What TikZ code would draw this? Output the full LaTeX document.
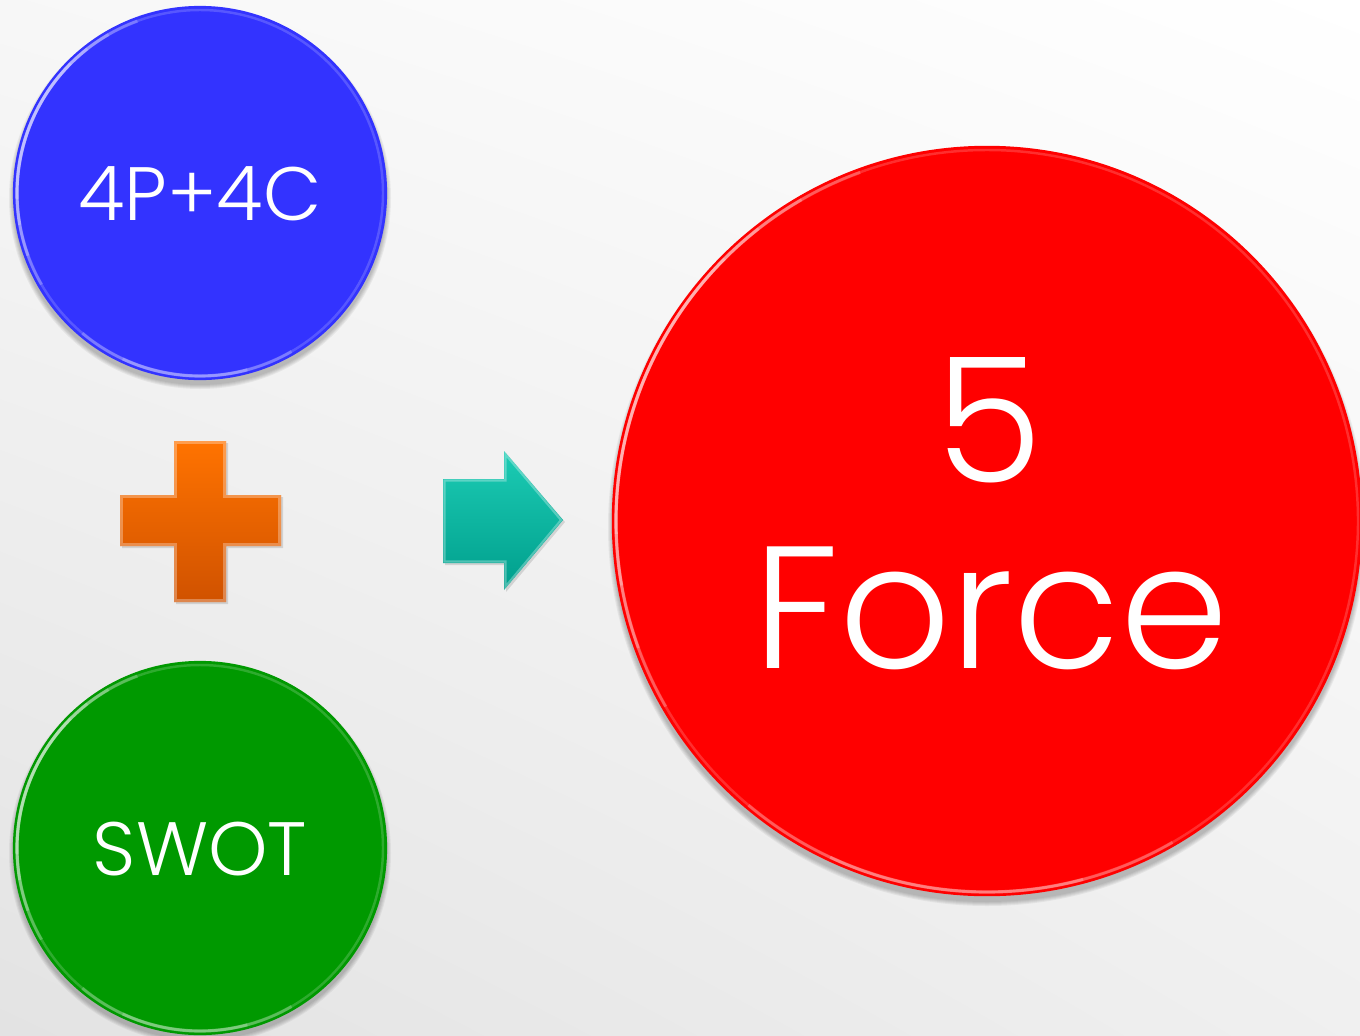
\documentclass[tikz,border=0pt]{standalone}
\usepackage{fontspec}
\setmainfont{Poppins Light}
\usetikzlibrary{shadings}
\definecolor{cblue}{HTML}{3333FF}
\definecolor{cgreen}{HTML}{009900}
\definecolor{cred}{HTML}{FF0000}
\definecolor{corangeT}{HTML}{FF7300}
\definecolor{corangeB}{HTML}{D05200}
\definecolor{ctealT}{HTML}{1CCCB4}
\definecolor{ctealB}{HTML}{009E8C}
\tikzset{
  ball/.style={circle, inner sep=0pt, text=white},
  balltext/.style={text=white, inner sep=0pt, anchor=base},
  shadowring/.style={fill=black, opacity=0.05},
  rimline/.style={white, opacity=0.18, line width=0.7pt},
  hl/.style={white, opacity=0.22, line width=0.9pt},
  edge/.style={white, opacity=0.3, line width=0.6pt, line join=miter},
}
\begin{document}
\begin{tikzpicture}[x=0.01cm,y=-0.01cm]
\useasboundingbox (0,0) rectangle (1360,1036);
\shade[upper right=white, upper left=black!3, lower left=black!11, lower right=black!6] (0,0) rectangle (1360,1036);
% shadows
\foreach \k in {1,...,5}{
  \fill[shadowring] (200,198) circle ({186+\k});
  \fill[shadowring] (200,853) circle ({186+\k});
  \fill[shadowring] (987,527) circle ({374+\k});
}
% circles
\node[ball, fill=cblue, minimum size=3.74cm] (p4) at (200,193) {};
\node[ball, fill=cgreen, minimum size=3.74cm] (swot) at (200,848) {};
\node[ball, fill=cred, minimum size=7.50cm] (five) at (987,521) {};
% gloss rims
\foreach \cx/\cy/\r in {200/193/183, 200/848/183, 987/521/371}{
  \draw[rimline] (\cx,\cy) circle (\r);
  \foreach \a/\b in {150/250, 160/240, 170/232, 178/225}{
    \draw[hl] (\cx,\cy) ++(\a:\r) arc (\a:\b:\r);
  }
  \foreach \a/\b in {60/130, 75/115}{
    \draw[hl] (\cx,\cy) ++(\a:\r) arc (\a:\b:\r);
  }
}
% texts
\node[balltext, font=\fontsize{21.5}{26}\selectfont] (t4p) at (200,220) {4P+4C};
\node[balltext, font=\fontsize{21.5}{26}\selectfont] (tsw) at (200,875) {SWOT};
\node[balltext, font=\fontsize{49.5}{53}\selectfont] (t5) at (989,482) {5};
\node[balltext, font=\fontsize{49.5}{53}\selectfont] (tf) at (991,668) {Force};
% plus sign
\fill[black, opacity=0.12] (176,443) -- (228,443) -- (228,497) -- (283,497) -- (283,548) -- (228,548) -- (228,604) -- (176,604) -- (176,548) -- (122,548) -- (122,497) -- (176,497) -- cycle;
\shade[top color=corangeT, bottom color=corangeB] (174,441) -- (226,441) -- (226,495) -- (281,495) -- (281,546) -- (226,546) -- (226,602) -- (174,602) -- (174,546) -- (120,546) -- (120,495) -- (174,495) -- cycle;
\draw[edge] (175.5,442.5) -- (224.5,442.5) -- (224.5,496.5) -- (279.5,496.5) -- (279.5,544.5) -- (224.5,544.5) -- (224.5,600.5) -- (175.5,600.5) -- (175.5,544.5) -- (121.5,544.5) -- (121.5,496.5) -- (175.5,496.5) -- cycle;
% arrow
\fill[black, opacity=0.12] (445,481) -- (506,481) -- (506,453) -- (565,522) -- (506,592) -- (506,565) -- (445,565) -- cycle;
\shade[top color=ctealT, bottom color=ctealB] (443,479) -- (504,479) -- (504,451) -- (563,520) -- (504,590) -- (504,563) -- (443,563) -- cycle;
\draw[edge] (444.5,480.5) -- (505.5,480.5) -- (505.5,454.5) -- (561,520) -- (505.5,586.5) -- (505.5,561.5) -- (444.5,561.5) -- cycle;
\end{tikzpicture}
\end{document}
